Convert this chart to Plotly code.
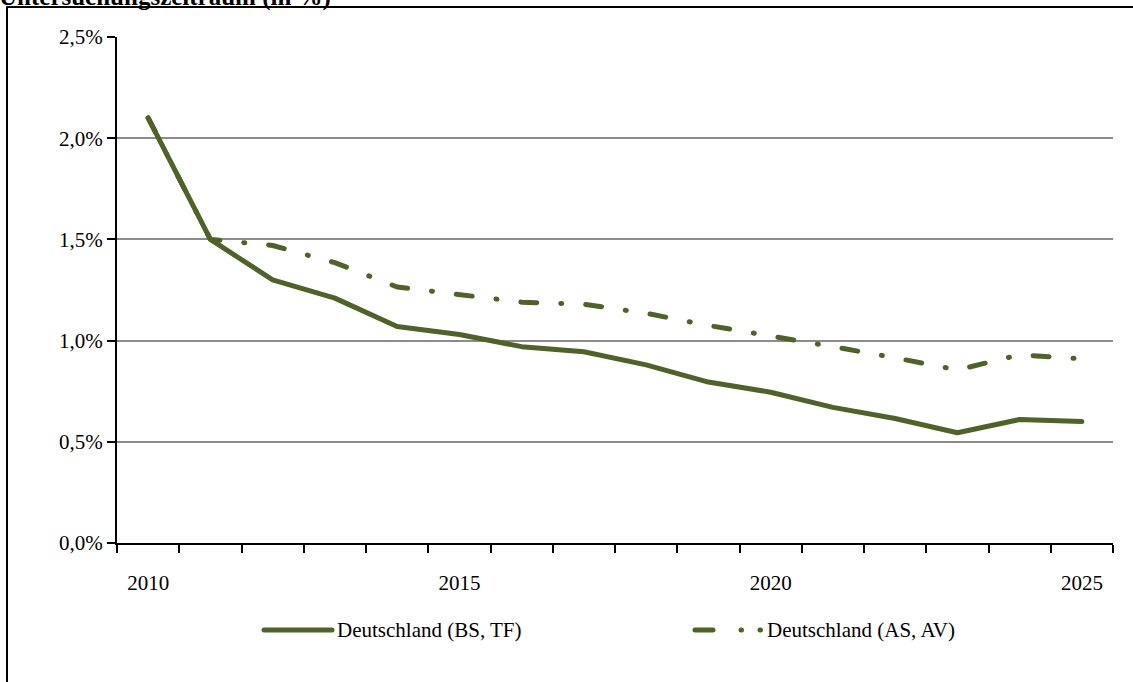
import plotly.graph_objects as go

years = list(range(2010, 2026))
bs_tf = [2.10, 1.50, 1.30, 1.21, 1.07, 1.03, 0.97, 0.945, 0.88, 0.795, 0.745, 0.67, 0.615, 0.545, 0.61, 0.60]
as_av = [2.10, 1.50, 1.47, 1.385, 1.265, 1.23, 1.19, 1.18, 1.135, 1.075, 1.025, 0.97, 0.915, 0.855, 0.93, 0.91]
series_names = ["Deutschland (BS, TF)", "Deutschland (AS, AV)"]
y_ticks = [0, 0.005, 0.01, 0.015, 0.02, 0.025]
x_labels = [2010, 2015, 2020, 2025]
title_text = "Untersuchungszeitraum (in %)"

GREEN = "#4F6228"
FONT = "Liberation Serif, Times New Roman, serif"
MAIN_DASH = "16px,24px,1px,24px"

fig = go.Figure()
fig.add_trace(go.Scatter(x=years, y=[v / 100 for v in bs_tf], name=series_names[0],
                         mode="lines", line=dict(color=GREEN, width=5), showlegend=False))
fig.add_trace(go.Scatter(x=years, y=[v / 100 for v in as_av], name=series_names[1],
                         mode="lines", line=dict(color=GREEN, width=5, dash=MAIN_DASH), showlegend=False))

W, H = 1133, 682
L, R, T, B = 117, 1113, 37, 543
pw, ph = R - L, B - T

def px(X):
    return (X - L) / pw

def py(Y):
    return (B - Y) / ph

LEG_Y = 630
shapes = [
    dict(type="rect", xref="paper", yref="paper",
         x0=px(7), x1=px(1200), y0=py(760), y1=py(7),
         line=dict(color="black", width=2), fillcolor="rgba(0,0,0,0)", layer="below"),
    # legend samples
    dict(type="line", xref="paper", yref="paper", x0=px(264), x1=px(332), y0=py(LEG_Y), y1=py(LEG_Y),
         line=dict(color=GREEN, width=5)),
    dict(type="line", xref="paper", yref="paper", x0=px(695), x1=px(762), y0=py(LEG_Y), y1=py(LEG_Y),
         line=dict(color=GREEN, width=5, dash="18px,28px,0.5px,18.5px,0.5px,200px")),
]

annotations = [
    dict(text="<b>" + title_text + "</b>", xref="paper", yref="paper",
         x=px(-3), y=py(13), xanchor="left", yanchor="bottom", showarrow=False,
         font=dict(family=FONT, size=25, color="black")),
    dict(text=series_names[0], xref="paper", yref="paper", x=px(335), y=py(LEG_Y),
         xanchor="left", yanchor="middle", showarrow=False,
         font=dict(family=FONT, size=21, color="black")),
    dict(text=series_names[1], xref="paper", yref="paper", x=px(765), y=py(LEG_Y),
         xanchor="left", yanchor="middle", showarrow=False,
         font=dict(family=FONT, size=21, color="black")),
]

fig.update_layout(
    width=W, height=H,
    margin=dict(l=L, r=W - R, t=T, b=H - B, pad=0),
    paper_bgcolor="white", plot_bgcolor="white",
    separators=",.",
    font=dict(family=FONT, size=21, color="black"),
    showlegend=False,
    xaxis=dict(range=[2009.5, 2025.5], tickvals=x_labels, ticktext=[str(v) for v in x_labels],
               ticks="", showgrid=False, zeroline=False,
               showline=True, linecolor="black", linewidth=2,
               ticklabelstandoff=20,
               tickfont=dict(family=FONT, size=21, color="black"),
               minor=dict(ticks="outside", tick0=2009.5, dtick=1, ticklen=8,
                          tickcolor="black", tickwidth=1.5, showgrid=False)),
    yaxis=dict(range=[0, 0.025], tickvals=y_ticks, tickformat=".1%",
               ticks="outside", ticklen=8, tickcolor="black", tickwidth=1.5,
               showgrid=True, gridcolor="#8C8C8C", gridwidth=1.5,
               zeroline=False, showline=True, linecolor="black", linewidth=2,
               tickfont=dict(family=FONT, size=21, color="black")),
    shapes=shapes,
    annotations=annotations,
)

post = """
document.body.style.margin='0';
document.querySelectorAll('.scatterlayer path.js-line, .shapelayer path').forEach(function(p){
  p.style.strokeLinecap='round'; p.style.strokeLinejoin='round';
});
"""
fig.write_html("out.html", post_script=post, config={"displayModeBar": False})
